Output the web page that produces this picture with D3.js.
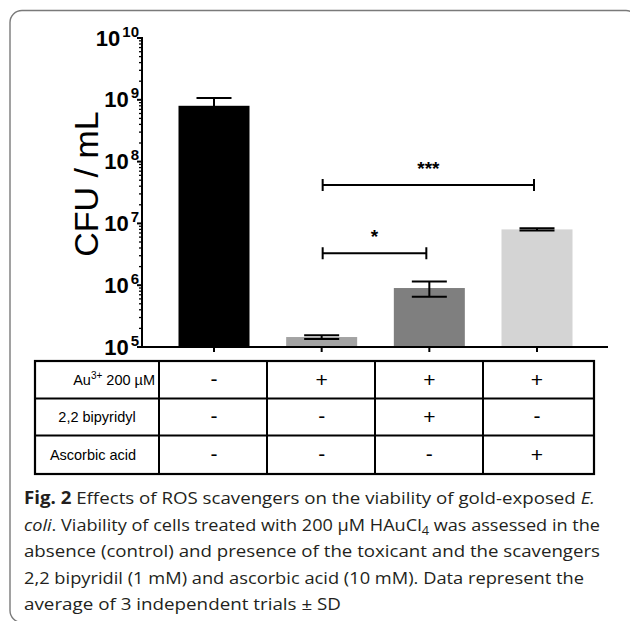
<!DOCTYPE html>
<html>
<head>
<meta charset="utf-8">
<script src="https://cdn.jsdelivr.net/npm/d3@7"></script>
<style>
  body { margin: 0; background: #fff; }
  svg { display: block; }
</style>
</head>
<body>
<svg id="chart" width="630" height="621"></svg>
<script>
// data
const groups = ["control", "Au", "Au+bipy", "Au+asc"];
const means = [8.0e8, 1.45e5, 9.0e5, 8.0e6];
const sds = [2.7e8, 0.1e5, 2.5e5, 0.35e6];
const barColors = ["#000000", "#a3a3a3", "#7f7f7f", "#d4d4d4"];
const yTicks = [5, 6, 7, 8, 9, 10];

const rowLabels = ["Au", "2,2 bipyridyl", "Ascorbic acid"];
const treatments = [
    ["-", "+", "+", "+"],
    ["-", "-", "+", "-"],
    ["-", "-", "-", "+"]
];

// significance brackets: from group, to group, height (CFU/mL), label
const brackets = [
    { from: 1, to: 3, y: 4.2e7, label: "***" },
    { from: 1, to: 2, y: 3.3e6, label: "*" }
];

const svg = d3.select("#chart");

// figure frame
svg.append("rect")
    .attr("x", 10).attr("y", 10.5)
    .attr("width", 628).attr("height", 612)
    .attr("rx", 12)
    .attr("fill", "none")
    .attr("stroke", "#7a7a7a")
    .attr("stroke-width", 1.4);

const axisX = 142, axisY = 347;
const y = d3.scaleLog().domain([1e5, 1e10]).range([axisY, 38]);
const x = d3.scalePoint().domain(groups).range([214, 537]);
const barW = 71;

// bars
svg.selectAll("rect.bar")
    .data(groups)
    .enter().append("rect")
    .attr("class", "bar")
    .attr("x", d => x(d) - barW / 2)
    .attr("y", (d, i) => y(means[i]))
    .attr("width", barW)
    .attr("height", (d, i) => axisY - y(means[i]))
    .attr("fill", (d, i) => barColors[i]);

// error bars
const capW = 35;
groups.forEach((g, i) => {
    const cx = x(g);
    const hi = y(means[i] + sds[i]), lo = y(means[i] - sds[i]);
    const eb = svg.append("g").attr("stroke", "#000").attr("stroke-width", 2);
    eb.append("line").attr("x1", cx).attr("x2", cx).attr("y1", hi).attr("y2", lo);
    eb.append("line").attr("x1", cx - capW / 2).attr("x2", cx + capW / 2).attr("y1", hi).attr("y2", hi);
    eb.append("line").attr("x1", cx - capW / 2).attr("x2", cx + capW / 2).attr("y1", lo).attr("y2", lo);
});

// y axis with minor ticks
const minor = [];
for (let e = 5; e < 10; e++) {
    for (let m = 2; m <= 9; m++) minor.push(m * Math.pow(10, e));
}
const yAxis = svg.append("g").attr("stroke", "#000");
yAxis.append("line")
    .attr("x1", axisX).attr("x2", axisX)
    .attr("y1", y(1e10) - 1).attr("y2", axisY + 1)
    .attr("stroke-width", 2);
yAxis.selectAll("line.minor")
    .data(minor)
    .enter().append("line")
    .attr("x1", axisX - 3).attr("x2", axisX)
    .attr("y1", d => y(d)).attr("y2", d => y(d))
    .attr("stroke-width", 1.3);
yAxis.selectAll("line.major")
    .data(yTicks)
    .enter().append("line")
    .attr("x1", axisX - 5).attr("x2", axisX)
    .attr("y1", d => y(Math.pow(10, d))).attr("y2", d => y(Math.pow(10, d)))
    .attr("stroke-width", 2);

const tickText = svg.selectAll("text.ytick")
    .data(yTicks)
    .enter().append("text")
    .attr("class", "ytick")
    .attr("x", axisX - 3)
    .attr("y", d => y(Math.pow(10, d)) + 7.5)
    .attr("text-anchor", "end")
    .attr("font-family", "Arial, 'Liberation Sans', sans-serif")
    .attr("font-weight", "bold")
    .attr("fill", "#000");
tickText.append("tspan").attr("font-size", 22).text("10");
tickText.append("tspan")
    .attr("font-size", 15)
    .attr("dy", -9)
    .attr("dx", 2)
    .text(d => d);

// y axis title
svg.append("text")
    .attr("transform", "translate(98,184) rotate(-90)")
    .attr("text-anchor", "middle")
    .attr("font-family", "Arial, 'Liberation Sans', sans-serif")
    .attr("font-size", 34)
    .attr("fill", "#000")
    .text("CFU / mL");

// x axis
svg.append("line")
    .attr("x1", axisX - 1).attr("x2", 608)
    .attr("y1", axisY).attr("y2", axisY)
    .attr("stroke", "#000").attr("stroke-width", 2);
svg.selectAll("line.xtick")
    .data(groups)
    .enter().append("line")
    .attr("x1", d => x(d)).attr("x2", d => x(d))
    .attr("y1", axisY).attr("y2", axisY + 5)
    .attr("stroke", "#000").attr("stroke-width", 2);

// significance brackets
brackets.forEach(b => {
    const by = y(b.y);
    const x1 = x(groups[b.from]) + 1, x2 = x(groups[b.to]) - 3;
    const g = svg.append("g");
    g.append("path")
        .attr("d", `M${x1},${by - 6}V${by + 6}M${x1},${by}H${x2}M${x2},${by - 6}V${by + 6}`)
        .attr("fill", "none")
        .attr("stroke", "#000")
        .attr("stroke-width", 2);
    g.append("text")
        .attr("x", (x1 + x2) / 2)
        .attr("y", by - 10)
        .attr("text-anchor", "middle")
        .attr("font-family", "Arial, 'Liberation Sans', sans-serif")
        .attr("font-weight", "bold")
        .attr("font-size", 19)
        .text(b.label);
});

// treatment table
const colEdges = [35, 159, 267, 375, 483, 594];
const rowEdges = [361, 398.5, 435.5, 474];
const table = svg.append("g");
table.append("rect")
    .attr("x", colEdges[0]).attr("y", rowEdges[0])
    .attr("width", colEdges[5] - colEdges[0])
    .attr("height", rowEdges[3] - rowEdges[0])
    .attr("fill", "none").attr("stroke", "#000").attr("stroke-width", 2.2);
colEdges.slice(1, 5).forEach(cx => {
    table.append("line")
        .attr("x1", cx).attr("x2", cx)
        .attr("y1", rowEdges[0]).attr("y2", rowEdges[3])
        .attr("stroke", "#000").attr("stroke-width", 2);
});
rowEdges.slice(1, 3).forEach(ry => {
    table.append("line")
        .attr("x1", colEdges[0]).attr("x2", colEdges[5])
        .attr("y1", ry).attr("y2", ry)
        .attr("stroke", "#000").attr("stroke-width", 2);
});

const labelX = [155, 97, 93];
const labelAnchor = ["end", "middle", "middle"];
rowLabels.forEach((lab, r) => {
    const cy = (rowEdges[r] + rowEdges[r + 1]) / 2;
    const t = table.append("text")
        .attr("x", labelX[r])
        .attr("y", cy + 5)
        .attr("text-anchor", labelAnchor[r])
        .attr("font-family", "Arial, 'Liberation Sans', sans-serif")
        .attr("font-size", 14.5)
        .attr("fill", "#000");
    if (r === 0) {
        t.append("tspan").text("Au");
        t.append("tspan").attr("font-size", 10).attr("dy", -6).text("3+");
        t.append("tspan").attr("dy", 6).text(" 200 µM");
    } else {
        t.text(lab);
    }
    treatments[r].forEach((s, c) => {
        table.append("text")
            .attr("x", x(groups[c]))
            .attr("y", cy + (s === "+" ? 7 : 6))
            .attr("text-anchor", "middle")
            .attr("font-family", "Arial, 'Liberation Sans', sans-serif")
            .attr("font-size", 21)
            .attr("fill", "#000")
            .text(s);
    });
});

// caption
const cap = svg.append("g")
    .attr("font-family", "'Open Sans', 'Noto Sans', sans-serif")
    .attr("font-size", 17)
    .attr("fill", "#231f20");
const capLines = [];
let t1 = cap.append("text").attr("x", 24).attr("y", 504);
t1.append("tspan").attr("font-weight", "bold").text("Fig. 2");
t1.append("tspan").text("  Effects of ROS scavengers on the viability of gold-exposed ");
t1.append("tspan").attr("font-style", "italic").text("E.");
capLines.push([t1, 571]);

let t2 = cap.append("text").attr("x", 24).attr("y", 530.5);
t2.append("tspan").attr("font-style", "italic").text("coli");
t2.append("tspan").text(". Viability of cells treated with 200 µM HAuCl");
t2.append("tspan").attr("font-size", 12).attr("dy", 4).text("4");
t2.append("tspan").attr("dy", -4).text(" was assessed in the");
capLines.push([t2, 576]);

let t3 = cap.append("text").attr("x", 24).attr("y", 557)
    .text("absence (control) and presence of the toxicant and the scavengers");
capLines.push([t3, 576]);

let t4 = cap.append("text").attr("x", 24).attr("y", 583.5)
    .text("2,2 bipyridil (1 mM) and ascorbic acid (10 mM). Data represent the");
capLines.push([t4, 560]);

let t5 = cap.append("text").attr("x", 24).attr("y", 610)
    .text("average of 3 independent trials ± SD");
capLines.push([t5, 317]);

capLines.forEach(([t, w]) => {
    t.attr("textLength", w).attr("lengthAdjust", "spacingAndGlyphs");
});
</script>
</body>
</html>
